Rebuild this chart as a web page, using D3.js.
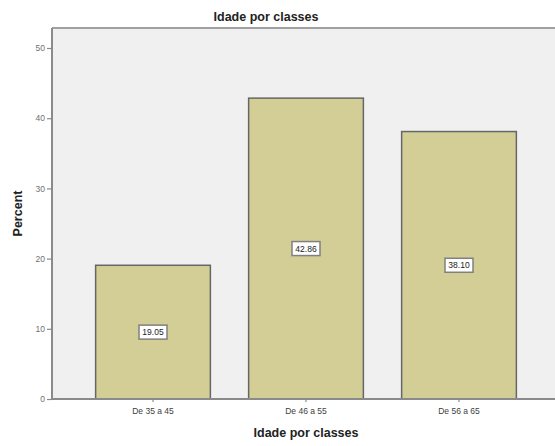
<!DOCTYPE html>
<html>
<head>
<meta charset="utf-8">
<script src="https://cdn.jsdelivr.net/npm/d3@7"></script>
<style>
  html, body { margin: 0; padding: 0; background: #fff; }
  svg { display: block; font-family: "Liberation Sans", Arial, sans-serif; }
</style>
</head>
<body>
<svg id="chart" width="555" height="446"></svg>
<script>
// Age classes and their percentage share
const categories = ["De 35 a 45", "De 46 a 55", "De 56 a 65"];
const percents = [19.05, 42.86, 38.10];
const yTicks = [0, 10, 20, 30, 40, 50];
const chartTitle = "Idade por classes";
const xTitle = "Idade por classes";
const yTitle = "Percent";

const svg = d3.select("#chart");

// Plot frame
const plotLeft = 52, plotTop = 28, plotBottom = 399, plotRight = 560;

const y = d3.scaleLinear().domain([0, 52.85]).range([plotBottom, plotTop]);
const x = d3.scaleBand()
  .domain(categories)
  .range([76.5, 535.5])
  .paddingInner(0.25)
  .paddingOuter(0.125);

// Plot background
svg.append("rect")
  .attr("x", plotLeft).attr("y", plotTop)
  .attr("width", plotRight - plotLeft).attr("height", plotBottom - plotTop)
  .attr("fill", "#eff0ef");

// Top border
svg.append("line")
  .attr("x1", plotLeft).attr("x2", plotRight)
  .attr("y1", plotTop).attr("y2", plotTop)
  .attr("stroke", "#a0a0a0").attr("stroke-width", 2);

// Bars
svg.append("g").selectAll("rect")
  .data(percents)
  .join("rect")
  .attr("x", (d, i) => x(categories[i]))
  .attr("y", d => y(d))
  .attr("width", x.bandwidth())
  .attr("height", d => plotBottom - y(d))
  .attr("fill", "#d3ce95")
  .attr("stroke", "#666")
  .attr("stroke-width", 1.5);

// Value labels at mid-height of each bar
const labels = svg.append("g").selectAll("g")
  .data(percents)
  .join("g")
  .attr("transform", (d, i) =>
    `translate(${x(categories[i]) + x.bandwidth() / 2},${y(d / 2)})`);
labels.append("rect")
  .attr("x", -14).attr("y", -7)
  .attr("width", 28).attr("height", 14)
  .attr("fill", "#fff")
  .attr("stroke", "#808080")
  .attr("stroke-width", 1.5);
labels.append("text")
  .attr("text-anchor", "middle")
  .attr("dy", "0.35em")
  .attr("font-size", 8.5)
  .attr("fill", "#222")
  .text(d => d.toFixed(2));

// Y axis
const yAxis = svg.append("g")
  .attr("transform", `translate(${plotLeft},0)`)
  .call(d3.axisLeft(y).tickValues(yTicks).tickSize(5).tickSizeOuter(0).tickPadding(2));
yAxis.select(".domain").attr("stroke", "#8a8a8a").attr("stroke-width", 2)
  .attr("d", `M0,${plotTop}V${plotBottom}`);
yAxis.selectAll(".tick line").attr("stroke", "#8a8a8a").attr("stroke-width", 1.2);
yAxis.selectAll(".tick text").attr("font-size", 8.5).attr("fill", "#707070")
  .attr("font-family", "Liberation Sans, Arial, sans-serif");

// X axis
const xAxis = svg.append("g")
  .attr("transform", `translate(0,${plotBottom})`)
  .call(d3.axisBottom(x).tickSize(3).tickSizeOuter(0).tickPadding(6));
xAxis.select(".domain").attr("stroke", "#8a8a8a").attr("stroke-width", 2)
  .attr("d", `M${plotLeft},0H${plotRight}`);
xAxis.selectAll(".tick line").attr("stroke", "#8a8a8a").attr("stroke-width", 1.2);
xAxis.selectAll(".tick text").attr("font-size", 8.5).attr("fill", "#404040")
  .attr("font-family", "Liberation Sans, Arial, sans-serif");

// Titles
svg.append("text")
  .attr("x", 266).attr("y", 21)
  .attr("text-anchor", "middle")
  .attr("font-size", 12.5).attr("font-weight", "bold").attr("fill", "#222")
  .text(chartTitle);

svg.append("text")
  .attr("x", (x.range()[0] + x.range()[1]) / 2).attr("y", 437)
  .attr("text-anchor", "middle")
  .attr("font-size", 12.5).attr("font-weight", "bold").attr("fill", "#222")
  .text(xTitle);

svg.append("text")
  .attr("transform", `translate(22,${(plotTop + plotBottom) / 2}) rotate(-90)`)
  .attr("text-anchor", "middle")
  .attr("font-size", 12.5).attr("font-weight", "bold").attr("fill", "#222")
  .text(yTitle);
</script>
</body>
</html>
